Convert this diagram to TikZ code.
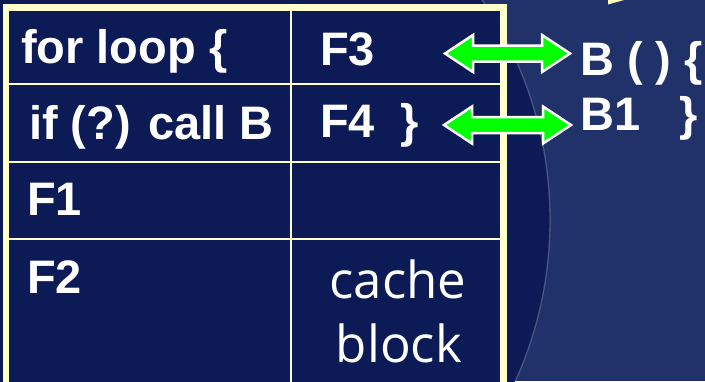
\documentclass[tikz,border=0pt]{standalone}
\usepackage{fontspec}
\setmainfont{Liberation Sans}
\newfontfamily\handfont{Open Sans}
\usetikzlibrary{calc}

\definecolor{slidebg}{HTML}{21326A}
\definecolor{slidedark}{HTML}{0C1A56}
\definecolor{rulecol}{HTML}{FFFFCC}
\definecolor{swapgreen}{HTML}{00FF00}

\tikzset{
  code/.style={text=white, font=\fontsize{47}{50}\selectfont\bfseries,
               anchor=base west, inner sep=0pt},
  hand/.style={text=white, font=\fontsize{51}{54}\selectfont\handfont,
               anchor=base, inner sep=0pt},
  frame/.style={draw=rulecol, line width=6.5pt},
  gridline/.style={draw=rulecol, line width=2pt},
  swaparrow/.style={fill=swapgreen, draw=white, line width=2.5pt, line join=miter},
}

% double-headed block arrow between two named points
\newcommand{\swapbetween}[2]{%
  \path[swaparrow] (#1) -- ($(#1)+(28,-18.5)$) -- ($(#1)+(28,-8)$)
    -- ($(#2)+(-28,-8)$) -- ($(#2)+(-28,-18.5)$) -- (#2)
    -- ($(#2)+(-28,18.5)$) -- ($(#2)+(-28,8)$)
    -- ($(#1)+(28,8)$) -- ($(#1)+(28,18.5)$) -- cycle;}

\begin{document}
\begin{tikzpicture}[x=1pt,y=-1pt]
  \useasboundingbox (0,0) rectangle (705,381);

  % slide background with the large dark disc on the left
  \fill[slidebg] (0,0) rectangle (705,381);
  \begin{scope}
    \clip (0,0) rectangle (705,381);
    \fill[slidedark] (160,220) circle[radius=390pt];
    \draw[white, opacity=.22, line width=1.3pt] (160,220) circle[radius=390pt];
    % small yellow tip at the top edge
    \fill[rulecol!90!yellow] (608,0) -- (624,0) -- (608,4.5) -- cycle;
  \end{scope}

  % table
  \fill[slidedark] (6,7.5) rectangle (503.5,395);
  \draw[gridline] (291,7.5) -- (291,395);
  \draw[gridline] (6,84) -- (503.5,84);
  \draw[gridline] (6,162) -- (503.5,162);
  \draw[gridline] (6,239) -- (503.5,239);
  \draw[frame] (6,7.5) rectangle (503.5,395);

  % cell texts
  \node[code] (loop) at (21,63)  {for loop \{};
  \node[code] (call) at (29,139) {if (?) call B};
  \node[code] (fa)   at (27,215) {F1};
  \node[code] (fb)   at (27,293) {F2};
  \node[code] (fc)   at (320,65) {F3};
  \node[code] (fd)   at (320,137) {F4\hspace{25pt}\}};
  \node[hand] (cache) at (398,298) {cache};
  \node[hand] (block) at (399,362) {block};

  % function B
  \node[code] (bhead) at (580,75)  {B ( ) \{};
  \node[code] (bbody) at (580,130) {B1\hspace{39pt}\}};

  % swap arrows
  \coordinate (fcR) at (445,53.5);
  \coordinate (bhL) at (570,53.5);
  \coordinate (fdR) at (444,125);
  \coordinate (bbL) at (571,125);
  \swapbetween{fcR}{bhL}
  \swapbetween{fdR}{bbL}
\end{tikzpicture}
\end{document}
